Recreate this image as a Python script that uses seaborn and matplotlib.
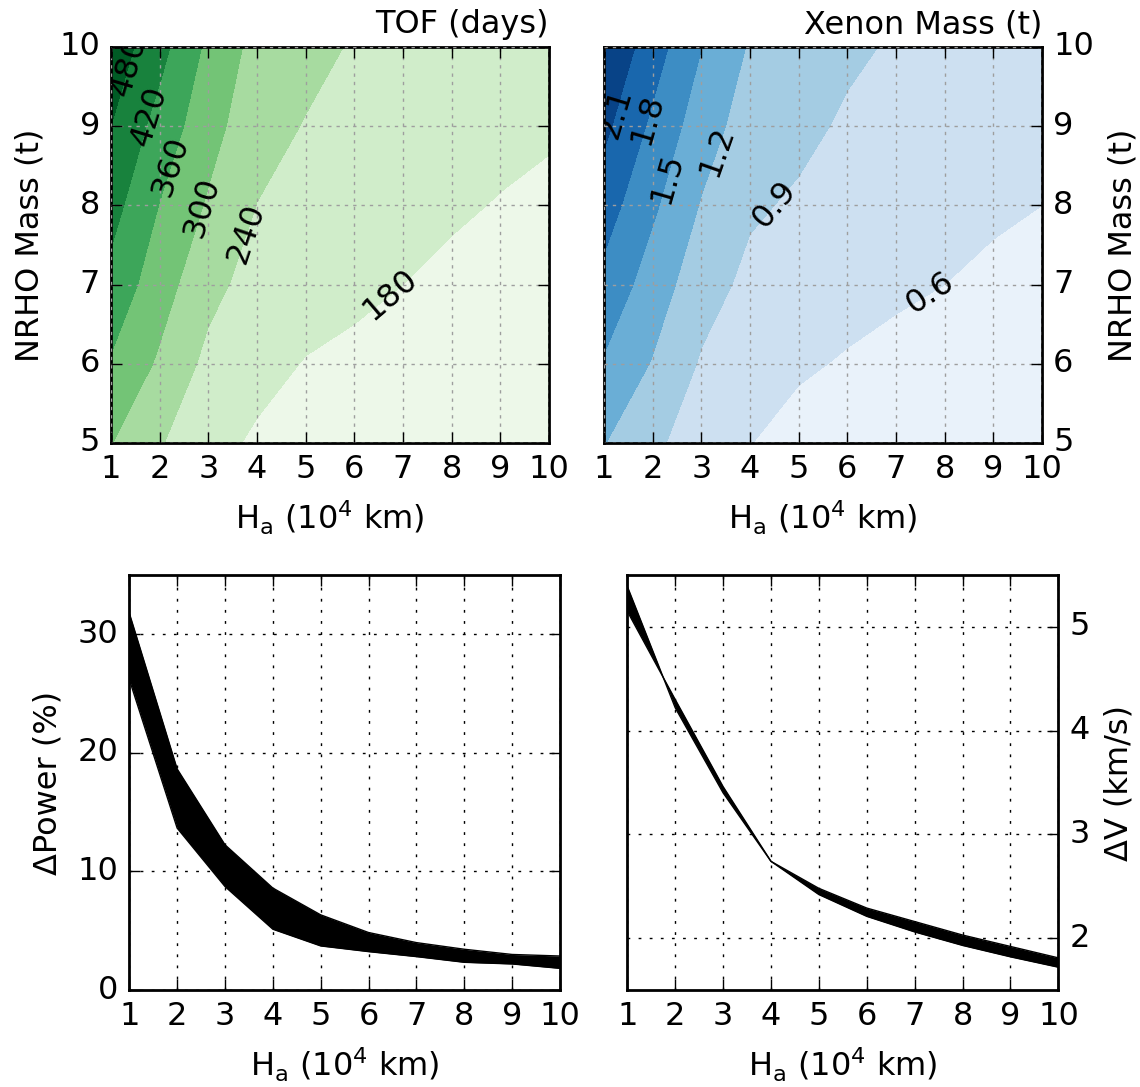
import matplotlib
matplotlib.use("Agg")
import matplotlib.pyplot as plt
import seaborn as sns

# grid axes for the contour panels
ha = [1, 2, 3, 4, 5, 6, 7, 8, 9, 10]          # apoapsis altitude (10^4 km)
nrho_mass = [5, 6, 7, 8, 9, 10]                # NRHO mass (t)

# TOF (days), one row per NRHO mass, one column per Ha
tof_days = [
    [302, 245, 193, 174, 158, 156, 152, 146, 142, 138],
    [354, 291, 224, 193, 178, 172, 166, 159, 154, 150],
    [401, 326, 258, 216, 198, 188, 180, 172, 166, 161],
    [442, 358, 293, 239, 218, 204, 194, 185, 178, 173],
    [480, 397, 322, 262, 237, 220, 208, 198, 190, 184],
    [517, 440, 347, 280, 257, 235, 222, 211, 202, 196],
]

# Xenon mass (t)
xenon_mass = [
    [1.21, 0.97, 0.72, 0.605, 0.52, 0.49, 0.47, 0.46, 0.43, 0.42],
    [1.47, 1.18, 0.87, 0.71, 0.63, 0.58, 0.55, 0.53, 0.50, 0.48],
    [1.71, 1.36, 1.02, 0.83, 0.75, 0.68, 0.63, 0.60, 0.56, 0.54],
    [1.94, 1.55, 1.18, 0.94, 0.86, 0.77, 0.71, 0.67, 0.63, 0.60],
    [2.17, 1.74, 1.34, 1.06, 0.97, 0.86, 0.79, 0.74, 0.69, 0.66],
    [2.38, 1.94, 1.505, 1.17, 1.08, 0.95, 0.87, 0.81, 0.76, 0.72],
]

tof_levels = [120, 180, 240, 300, 360, 420, 480, 540]
xenon_levels = [0.3, 0.6, 0.9, 1.2, 1.5, 1.8, 2.1, 2.4]

# where the contour labels sit (Ha, NRHO mass)
tof_label_pos = [(1.41, 9.75), (1.79, 9.12), (2.2, 8.5), (2.75, 8.0), (3.78, 7.65), (6.6, 6.98)]
xenon_label_pos = [(1.3, 9.15), (1.91, 9.09), (2.29, 8.35), (3.32, 8.69), (4.48, 8.03), (7.7, 6.91)]

# delta power band (%)
dpower_hi = [31.8, 18.65, 12.25, 8.6, 6.34, 4.85, 4.0, 3.44, 3.0, 2.87]
dpower_lo = [26.2, 13.66, 8.73, 5.13, 3.72, 3.24, 2.82, 2.34, 2.2, 1.83]

# delta V band (km/s), the two edges swap between 1 and 2
dv_a = [5.39, 4.22, 3.40, 2.74, 2.42, 2.21, 2.06, 1.93, 1.82, 1.72]
dv_b = [5.15, 4.30, 3.46, 2.74, 2.48, 2.29, 2.16, 2.03, 1.92, 1.81]

plt.style.use("classic")
plt.rcParams.update({
    "font.size": 11.5,
    "figure.facecolor": "white",
    "savefig.facecolor": "white",
    "mathtext.default": "regular",
    "mathtext.fontset": "dejavusans",
})

ha_label = r"H$_a$ (10$^4$ km)"

fig = plt.figure(figsize=(5.7, 5.435), dpi=200)
ax_tof = fig.add_axes([0.0974, 0.5925, 0.3842, 0.3643])
ax_xe = fig.add_axes([0.5298, 0.5925, 0.3842, 0.3643])
ax_pw = fig.add_axes([0.1134, 0.0892, 0.3778, 0.3818])
ax_dv = fig.add_axes([0.5503, 0.0892, 0.3781, 0.3818])


def contour_panel(ax, z, levels, cmap_name, title, label_pos, fmt):
    cmap = sns.color_palette(cmap_name, as_cmap=True)
    ax.contourf(ha, nrho_mass, z, levels=levels, cmap=cmap)
    lines = ax.contour(ha, nrho_mass, z, levels=levels, colors="k", linewidths=0)
    ax.clabel(lines, manual=label_pos, fmt=fmt, colors="k", inline=False, fontsize=11.5)
    ax.set_xlim(1, 10)
    ax.set_ylim(5, 10)
    ax.set_xticks(ha)
    ax.set_yticks(nrho_mass)
    ax.grid(True, color="0.62", linestyle=(0, (1.2, 1.8)), linewidth=0.5)
    ax.set_title(title, loc="right", fontsize=11.5)
    ax.set_xlabel(ha_label)
    ax.set_ylabel("NRHO Mass (t)")


contour_panel(ax_tof, tof_days, tof_levels, "Greens", "TOF (days)", tof_label_pos, "%d")
contour_panel(ax_xe, xenon_mass, xenon_levels, "Blues", "Xenon Mass (t)", xenon_label_pos, "%.1f")
ax_xe.yaxis.tick_right()
ax_xe.yaxis.set_label_position("right")

# Delta power band
ax_pw.fill_between(ha, dpower_lo, dpower_hi, color="k", lw=0)
sns.lineplot(x=ha, y=dpower_hi, ax=ax_pw, color="k", lw=0.5)
sns.lineplot(x=ha, y=dpower_lo, ax=ax_pw, color="k", lw=0.5)
ax_pw.set_xlim(1, 10)
ax_pw.set_ylim(0, 35)
ax_pw.set_xticks(ha)
ax_pw.set_yticks([0, 10, 20, 30])
ax_pw.grid(True)
ax_pw.set_xlabel(ha_label)
ax_pw.set_ylabel("ΔPower (%)")

# Delta V band
ax_dv.fill_between(ha, dv_a, dv_b, color="k", lw=0)
sns.lineplot(x=ha, y=dv_a, ax=ax_dv, color="k", lw=0.5)
sns.lineplot(x=ha, y=dv_b, ax=ax_dv, color="k", lw=0.5)
ax_dv.set_xlim(1, 10)
ax_dv.set_ylim(1.5, 5.5)
ax_dv.set_xticks(ha)
ax_dv.set_yticks([2, 3, 4, 5])
ax_dv.grid(True)
ax_dv.yaxis.tick_right()
ax_dv.yaxis.set_label_position("right")
ax_dv.set_xlabel(ha_label)
ax_dv.set_ylabel("ΔV (km/s)")

fig.savefig("out.png", dpi=200)
